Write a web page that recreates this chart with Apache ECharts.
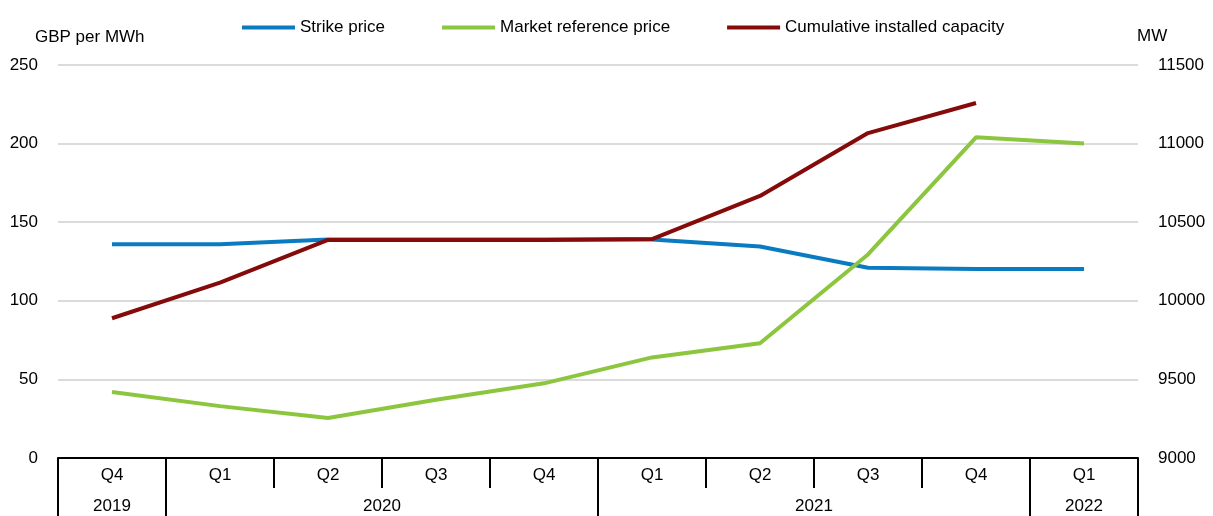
<!DOCTYPE html>
<html>
<head>
<meta charset="utf-8">
<script src="https://cdn.jsdelivr.net/npm/echarts@6/dist/echarts.min.js"></script>
<style>
    html, body { margin: 0; padding: 0; background: #fff; }
    #chart { width: 1213px; height: 516px; }
</style>
</head>
<body>
<div id="chart"></div>
<script>
// quarters, Q4 2019 .. Q1 2022
const quarters = ['Q4', 'Q1', 'Q2', 'Q3', 'Q4', 'Q1', 'Q2', 'Q3', 'Q4', 'Q1'];
// year labels on a half-quarter scale (21 points = 10 quarter boundaries)
const yearSlots = ['', '2019', '', '', '', '', '2020', '', '', '', '', '', '', '', '2021', '', '', '', '', '2022', ''];
const yearBreaks = [0, 2, 10, 18, 20];

const strikePrice = [136, 136, 139, 139, 139, 139, 134.5, 121, 120.3, 120.3];
const marketPrice = [42, 33, 25.5, 37, 47.5, 64, 73, 129.5, 204, 200];
const capacity = [9889, 10115, 10387, 10387, 10387, 10393, 10667, 11067, 11258, null];

const chart = echarts.init(document.getElementById('chart'));
const font = 'Liberation Sans, Arial, sans-serif';

const option = {
    backgroundColor: '#fff',
    textStyle: { fontFamily: font, color: '#000' },
    animation: false,
    legend: {
        left: 237,
        top: 14,
        itemWidth: 53,
        itemHeight: 4,
        itemGap: 57,
        icon: 'rect',
        textStyle: { fontSize: 17, color: '#000', fontFamily: font },
        data: ['Strike price', 'Market reference price', 'Cumulative installed capacity']
    },
    grid: { left: 58, right: 75, top: 65, bottom: 58 },
    xAxis: [{
        type: 'category',
        data: quarters,
        boundaryGap: true,
        axisLine: { show: true, lineStyle: { color: '#000', width: 2 } },
        axisTick: { show: true, interval: 0, length: 30, lineStyle: { color: '#000', width: 2 } },
        axisLabel: { interval: 0, margin: 9, fontSize: 17, color: '#000', fontFamily: font }
    }, {
        type: 'category',
        data: yearSlots,
        boundaryGap: false,
        position: 'bottom',
        offset: 0,
        axisLine: { show: false },
        axisTick: {
            show: true,
            length: 60,
            interval: function (i) { return yearBreaks.indexOf(i) >= 0; },
            lineStyle: { color: '#000', width: 2 }
        },
        axisLabel: { interval: 0, margin: 40, fontSize: 17, color: '#000', fontFamily: font },
        splitLine: { show: false }
    }],
    yAxis: [{
        type: 'value',
        min: 0,
        max: 250,
        interval: 50,
        name: 'GBP per MWh',
        nameLocation: 'end',
        nameGap: 28,
        nameTextStyle: { fontSize: 17, color: '#000', align: 'left', verticalAlign: 'middle', padding: [0, 0, 0, -23] },
        axisLine: { show: false },
        axisTick: { show: false },
        axisLabel: { margin: 20, fontSize: 17, color: '#000', fontFamily: font },
        splitLine: { lineStyle: { color: '#cfcfcf', width: 1.5 } }
    }, {
        type: 'value',
        min: 9000,
        max: 11500,
        interval: 500,
        name: 'MW',
        nameLocation: 'end',
        nameGap: 29,
        nameTextStyle: { fontSize: 17, color: '#000', align: 'left', verticalAlign: 'middle', padding: [0, 0, 0, -1] },
        axisLine: { show: false },
        axisTick: { show: false },
        axisLabel: {
            margin: 20, fontSize: 17, color: '#000', fontFamily: font,
            formatter: function (v) { return String(v); }
        },
        splitLine: { show: false }
    }],
    series: [{
        name: 'Strike price',
        type: 'line',
        data: strikePrice,
        showSymbol: false,
        symbol: 'none',
        color: '#0A7BC1',
        lineStyle: { width: 4, color: '#0A7BC1' }
    }, {
        name: 'Market reference price',
        type: 'line',
        data: marketPrice,
        showSymbol: false,
        symbol: 'none',
        color: '#8CC63F',
        lineStyle: { width: 4, color: '#8CC63F' }
    }, {
        name: 'Cumulative installed capacity',
        type: 'line',
        yAxisIndex: 1,
        data: capacity,
        showSymbol: false,
        symbol: 'none',
        color: '#850A0A',
        lineStyle: { width: 4, color: '#850A0A' }
    }]
};

chart.setOption(option);
window.addEventListener('resize', function () {
    chart.resize();
});
</script>
</body>
</html>
